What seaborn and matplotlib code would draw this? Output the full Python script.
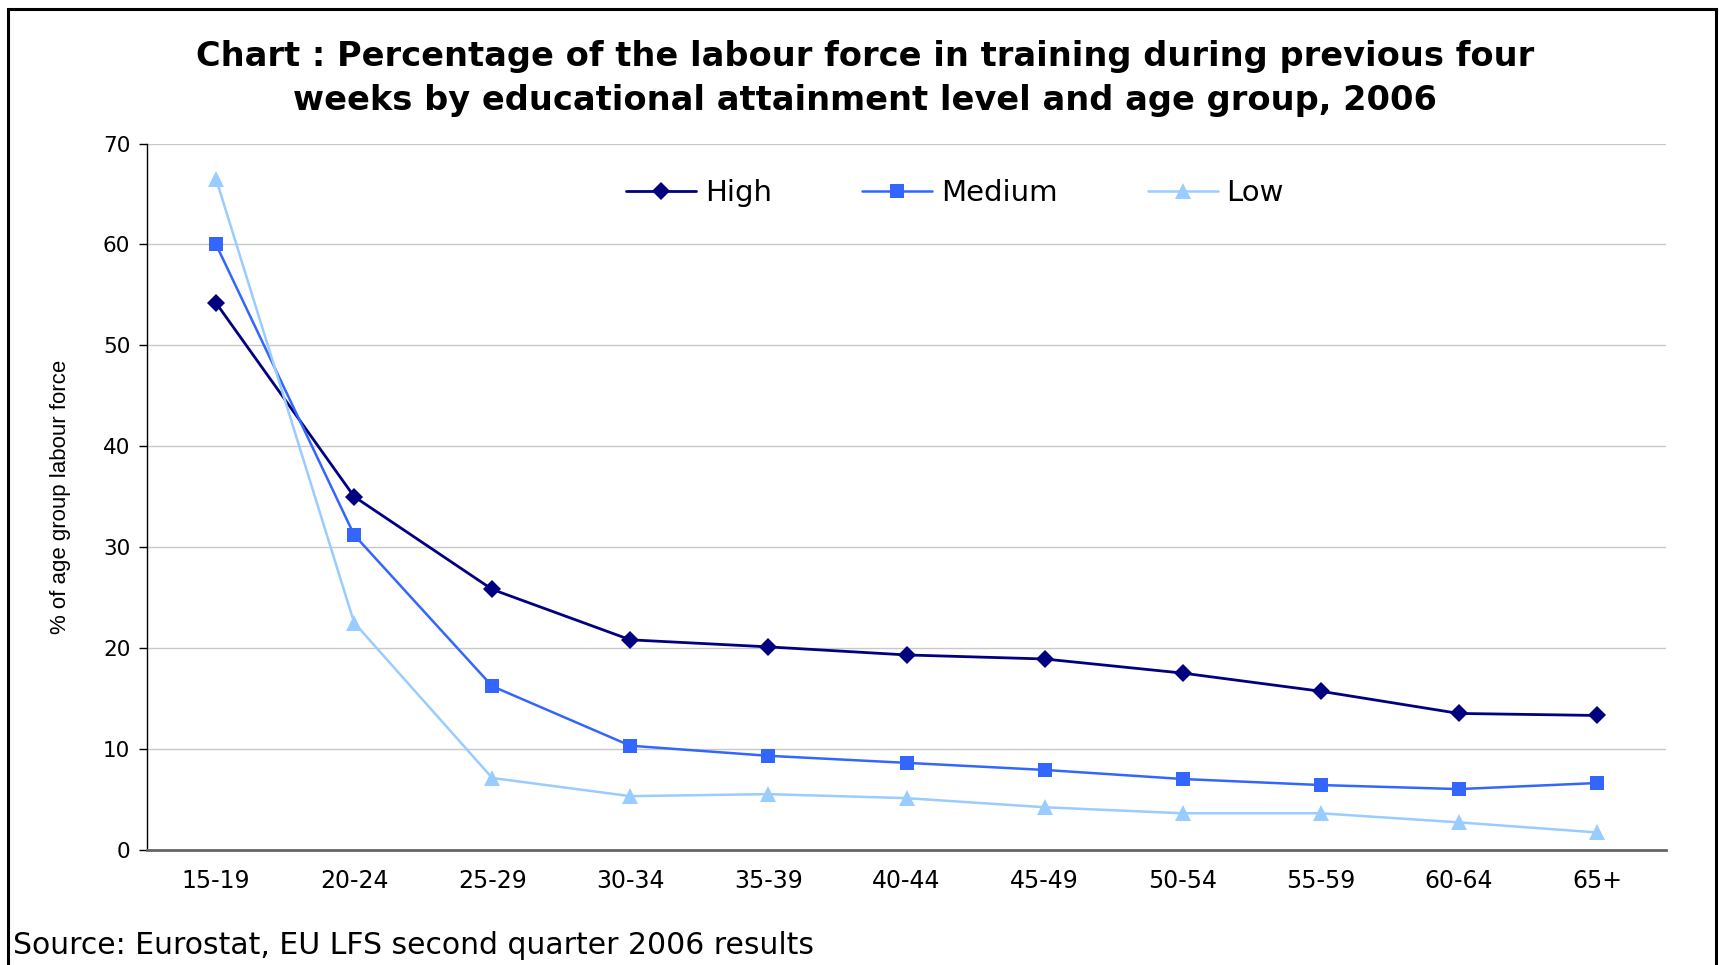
import matplotlib
matplotlib.use("Agg")
import matplotlib.pyplot as plt
from matplotlib.patches import Rectangle
from matplotlib.ticker import FixedLocator
import pandas as pd
import seaborn as sns

# Age groups and training participation (% of age-group labour force), 2006
age_groups = ["15-19", "20-24", "25-29", "30-34", "35-39", "40-44",
              "45-49", "50-54", "55-59", "60-64", "65+"]
high = [54.2, 35.0, 25.8, 20.8, 20.1, 19.3, 18.9, 17.5, 15.7, 13.5, 13.3]
medium = [60.0, 31.2, 16.2, 10.3, 9.3, 8.6, 7.9, 7.0, 6.4, 6.0, 6.6]
low = [66.5, 22.5, 7.1, 5.3, 5.5, 5.1, 4.2, 3.6, 3.6, 2.7, 1.7]
levels = ["High", "Medium", "Low"]
y_ticks = [0, 10, 20, 30, 40, 50, 60, 70]

title = ("Chart : Percentage of the labour force in training during previous four\n"
         "weeks by educational attainment level and age group, 2006")
source = "Source: Eurostat, EU LFS second quarter 2006 results"

sns.set_style("white")
plt.rcParams["font.family"] = ["DejaVu Sans"]
plt.rcParams["text.color"] = "black"
plt.rcParams["xtick.color"] = "black"
plt.rcParams["ytick.color"] = "black"
plt.rcParams["axes.labelcolor"] = "black"

df = pd.DataFrame({
    "age": age_groups * 3,
    "value": high + medium + low,
    "level": [lv for lv in levels for _ in age_groups],
})

palette = {"High": "#000080", "Medium": "#3366FF", "Low": "#99CCFF"}
markers = {"High": "D", "Medium": "s", "Low": "^"}
msizes = {"High": 9.5, "Medium": 9.5, "Low": 11.5}
lwidths = {"High": 2.0, "Medium": 1.8, "Low": 1.8}

W, H = 1719, 965
fig = plt.figure(figsize=(W / 100, H / 100), dpi=100)
left, right, top, bottom = 147, 1666, 143.6, 849.6
ax = fig.add_axes([left / W, 1 - bottom / H, (right - left) / W, (bottom - top) / H])

for lv in levels:
    sub = df[df["level"] == lv]
    sns.lineplot(data=sub, x="age", y="value", ax=ax, color=palette[lv],
                 marker=markers[lv], markersize=msizes[lv], markeredgewidth=0,
                 linewidth=lwidths[lv], label=lv, sort=False)

ax.set_xlim(-0.5, len(age_groups) - 0.5)
ax.set_ylim(0, 70)
ax.set_yticks(y_ticks)
ax.set_xticks(range(len(age_groups)))
ax.set_xticklabels(age_groups)
ax.xaxis.set_minor_locator(FixedLocator([i - 0.5 for i in range(len(age_groups) + 1)]))
ax.tick_params(axis="x", which="major", length=0, pad=14, labelsize=17)
ax.tick_params(axis="x", which="minor", length=6, width=1.2, color="#555555", direction="out")
ax.tick_params(axis="y", length=6, width=1, color="black", direction="out",
               pad=6, labelsize=15.5, left=True)

ax.yaxis.grid(True, color="#c8c8c8", linewidth=1)
ax.set_axisbelow(True)
for s in ["top", "right"]:
    ax.spines[s].set_visible(False)
ax.spines["left"].set_color("black")
ax.spines["left"].set_linewidth(1)
ax.spines["bottom"].set_color("#666666")
ax.spines["bottom"].set_linewidth(2)

ax.set_xlabel("")
ax.set_ylabel("% of age group labour force", fontsize=16, family=["Liberation Sans"])
ax.yaxis.set_label_coords(-0.050, 0.5)

ax.legend(loc="center", bbox_to_anchor=(955 / W, 1 - 193 / H),
          bbox_transform=fig.transFigure, ncol=3, frameon=False, fontsize=21,
          handlelength=2.4, handletextpad=0.3, columnspacing=3.1)

fig.text(865 / W, 1 - 78.5 / H, title, ha="center", va="center",
         fontsize=24.2, fontweight="bold", linespacing=1.42, multialignment="center")
fig.text(13 / W, 1 - 945 / H, source, ha="left", va="center", fontsize=21.5)

fig.patches.append(Rectangle((8 / W, -0.05), (1716 - 8) / W, 1.05 - 9 / H,
                             transform=fig.transFigure, fill=False,
                             edgecolor="black", linewidth=2.2))

fig.savefig("out.png", dpi=100)
